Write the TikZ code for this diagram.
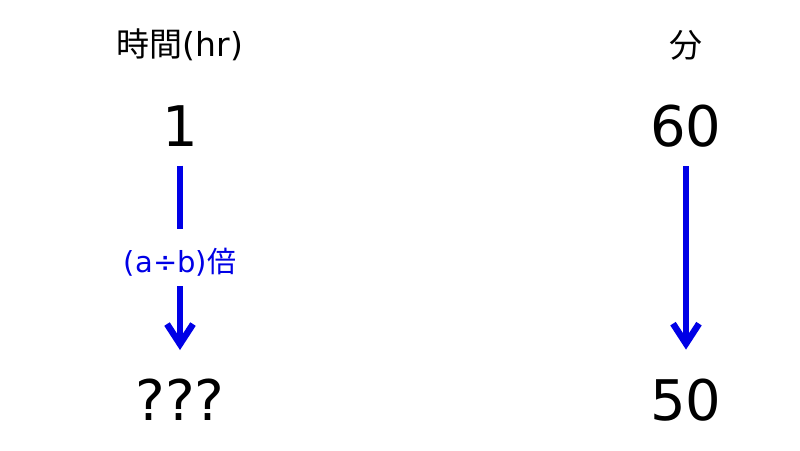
\documentclass[tikz,border=0pt]{standalone}
\usepackage{fontspec}
\setmainfont{DejaVu Sans}
\newfontfamily\jp{Noto Sans CJK JP}
\usetikzlibrary{arrows.meta}
\definecolor{arrblue}{RGB}{0,0,230}
\begin{document}
\begin{tikzpicture}[x=1pt,y=-1pt,
  head/.style={font=\fontsize{33}{36}\selectfont, inner sep=0pt},
  num/.style={font=\fontsize{56}{60}\selectfont, inner sep=0pt},
  lab/.style={font=\fontsize{29}{32}\selectfont, text=arrblue, inner sep=0pt},
  conn/.style={draw=arrblue, line width=6.5pt},
  tipped/.style={conn, -{Straight Barb[length=20pt, width=26pt]}}
]
\useasboundingbox[fill=white] (0,0) rectangle (800,450);
\node[head] (h1) at (180,45) {{\jp 時間}(hr)};
\node[head] (h2) at (686,45) {\jp 分};
\node[num] (one) at (180,126) {1};
\node[num] (sixty) at (686,126) {60};
\node[num] (qqq) at (180,400) {???};
\node[num] (fifty) at (686,400) {50};
\node[lab] (lbl) at (180,262) {(a÷b){\jp 倍}};
\draw[conn, shorten <=19pt, shorten >=19pt] (one) -- (lbl);
\draw[tipped, shorten <=10pt, shorten >=29pt] (lbl) -- (qqq);
\draw[tipped, shorten <=19pt, shorten >=29pt] (sixty) -- (fifty);
\end{tikzpicture}
\end{document}
